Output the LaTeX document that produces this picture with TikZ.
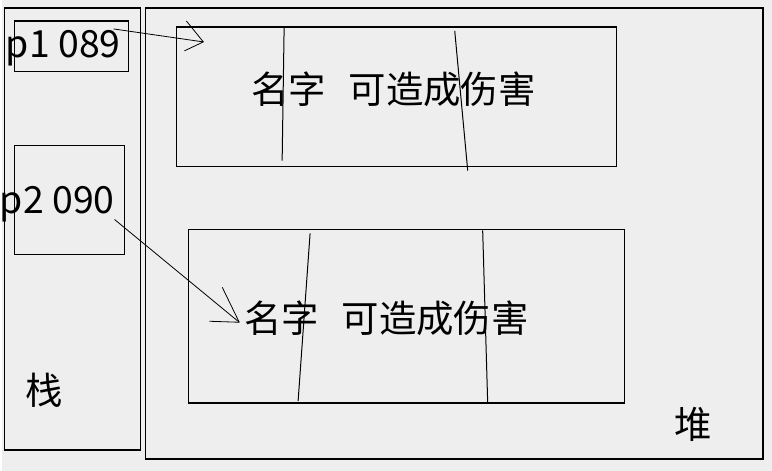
\documentclass[tikz,border=0pt]{standalone}
\usepackage{fontspec}
\setmainfont{Noto Sans CJK SC}
\usetikzlibrary{positioning}
\definecolor{bg}{HTML}{EEEEEE}

\begin{document}
\begin{tikzpicture}[
  x=1pt, y=-1pt,
  font=\fontsize{37.5}{42}\selectfont,
  frame/.style={
    draw,
    line width=1.3pt,
    inner sep=0pt,
    outer sep=0pt,
    anchor=north west
  },
  txt/.style={inner sep=0pt, anchor=base west},
  split/.style={line width=1pt},
  ref/.style={line width=0.8pt}
]

% Background
\fill[bg] (0,0) rectangle (772,472);

% Stack and heap
\node[frame, minimum width=136pt, minimum height=443pt] (stack) at (3,8) {};
\node[frame, minimum width=619pt, minimum height=452pt] (heap) at (144,8) {};
\node[txt] (stackname) at (24,405) {栈};
\node[txt] (heapname) at (674,440) {堆};

% Pointers on the stack
\node[frame, minimum width=114pt, minimum height=51pt] (ptrA) at (13,21) {};
\node[frame, minimum width=110pt, minimum height=109pt] (ptrB) at (13,146) {};
\node[txt] (ptrAtext) at (4,58) {p1 089};
\node[txt] (ptrBtext) at (-2,214) {p2 090};

% Objects on the heap
\node[frame, minimum width=441pt, minimum height=140pt] (objA) at (175,27) {};
\node[frame, minimum width=437pt, minimum height=174pt] (objB) at (187,230) {};
\node[txt] (objAtext) at (250,104) {名字\hspace{0.6em}可造成伤害};
\node[txt] (objBtext) at (243,333) {名字\hspace{0.6em}可造成伤害};

% Field separators
\draw[split] (283,27) -- (281,161);
\draw[split] (454,31) -- (467,171);
\draw[split] (309,234) -- (297,402);
\draw[split] (482,231) -- (487,403);

% References
\coordinate (outA) at (112,29);
\coordinate (tipA) at (202,42);
\coordinate (outB) at (113,220);
\coordinate (tipB) at (238,323);

\draw[ref] (outA) -- (tipA);
\draw[ref] (tipA) -- ++(-17,-21) (tipA) -- ++(-19,9);

\draw[ref] (outB) -- (tipB);
\draw[ref] (tipB) -- ++(-17,-35) (tipB) -- ++(-30,-1);

\end{tikzpicture}
\end{document}
